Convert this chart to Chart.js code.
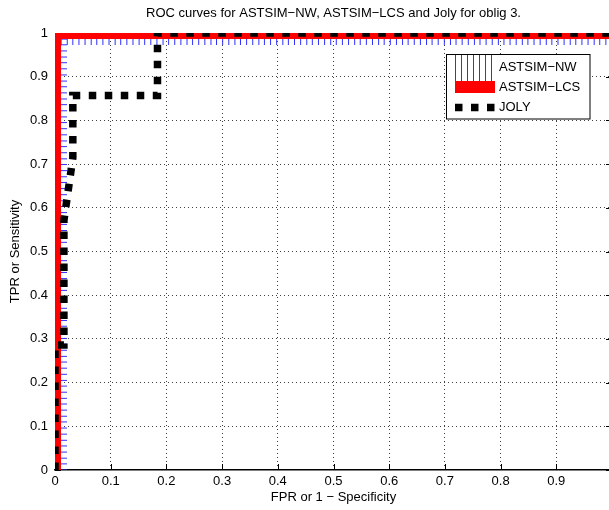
<!DOCTYPE html>
<html>
<head>
<meta charset="utf-8">
<script src="https://cdn.jsdelivr.net/npm/chart.js@4.4.1/dist/chart.umd.min.js"></script>
<style>
  html, body { margin: 0; padding: 0; background: #fff; overflow: hidden; }
  canvas { display: block; }
</style>
</head>
<body>
<canvas id="roc" width="625" height="510"></canvas>
<script>
// ---- text ----
const chartTitle = 'ROC curves for ASTSIM\u2212NW, ASTSIM\u2212LCS and Joly for oblig 3.';
const seriesNames = ['ASTSIM\u2212NW', 'ASTSIM\u2212LCS', 'JOLY'];
const xAxisTitle = 'FPR or 1 \u2212 Specificity';
const yAxisTitle = 'TPR or Sensitivity';

// ---- ticks (same on both axes) ----
const tickValues = [0, 0.1, 0.2, 0.3, 0.4, 0.5, 0.6, 0.7, 0.8, 0.9, 1];
const tickLabels = ['0', '0.1', '0.2', '0.3', '0.4', '0.5', '0.6', '0.7', '0.8', '0.9', '1'];

// ---- ASTSIM-NW: operating points on the FPR = 0 edge, then on the TPR = 1 edge ----
const nwTprAtZeroFpr = [0, 0.014, 0.027, 0.041, 0.055, 0.068, 0.082, 0.096, 0.110, 0.123,
  0.137, 0.151, 0.164, 0.178, 0.192, 0.205, 0.219, 0.233, 0.247, 0.260, 0.274, 0.288, 0.301,
  0.315, 0.329, 0.342, 0.356, 0.370, 0.384, 0.397, 0.411, 0.425, 0.438, 0.452, 0.466, 0.479,
  0.493, 0.507, 0.521, 0.534, 0.548, 0.562, 0.575, 0.589, 0.603, 0.616, 0.630, 0.644, 0.658,
  0.671, 0.685, 0.699, 0.712, 0.726, 0.740, 0.753, 0.767, 0.781, 0.795, 0.808, 0.822, 0.836,
  0.849, 0.863, 0.877, 0.890, 0.904, 0.918, 0.932, 0.945, 0.959, 0.973, 0.986, 1];
const nwFprAtFullTpr = [0.011, 0.022, 0.032, 0.043, 0.054, 0.065, 0.075, 0.086, 0.097, 0.108,
  0.118, 0.129, 0.140, 0.151, 0.161, 0.172, 0.183, 0.194, 0.204, 0.215, 0.226, 0.237, 0.247,
  0.258, 0.269, 0.280, 0.290, 0.301, 0.312, 0.323, 0.333, 0.344, 0.355, 0.366, 0.376, 0.387,
  0.398, 0.409, 0.419, 0.430, 0.441, 0.452, 0.462, 0.473, 0.484, 0.495, 0.505, 0.516, 0.527,
  0.538, 0.548, 0.559, 0.570, 0.581, 0.591, 0.602, 0.613, 0.624, 0.634, 0.645, 0.656, 0.667,
  0.677, 0.688, 0.699, 0.710, 0.720, 0.731, 0.742, 0.753, 0.763, 0.774, 0.785, 0.796, 0.806,
  0.817, 0.828, 0.839, 0.849, 0.860, 0.871, 0.882, 0.892, 0.903, 0.914, 0.925, 0.935, 0.946,
  0.957, 0.968, 0.978, 0.989, 1];

// ---- ASTSIM-LCS ----
const lcsFpr = [0, 0, 1];
const lcsTpr = [0, 1, 1];

// ---- JOLY ----
const jolyFpr = [0, 0, 0.016, 0.016, 0.032, 0.032, 0.184, 0.184, 1];
const jolyTpr = [0, 0.286, 0.286, 0.571, 0.714, 0.857, 0.857, 1, 1];

const pairUp = (xs, ys) => xs.map((x, i) => ({ x: x, y: ys[i] }));
const nwPoints = nwTprAtZeroFpr.map(t => ({ x: 0, y: t }))
  .concat(nwFprAtFullTpr.map(f => ({ x: f, y: 1 })));

const FONT = 'Liberation Sans, Arial, Helvetica, sans-serif';
Chart.defaults.font.family = FONT;
Chart.defaults.font.size = 13;
Chart.defaults.color = '#000';

const GRID_COLOR = 'rgba(0,0,0,0.75)';
const edgeAware = c => (c.tick && (c.tick.value === 0 || c.tick.value === 1)) ? 'rgba(0,0,0,0)' : GRID_COLOR;

// Short tick marks pointing into the plot box, drawn under the curves
const innerTicks = {
  id: 'innerTicks',
  beforeDatasetsDraw(chart) {
    const { ctx, chartArea: a, scales: { x, y } } = chart;
    const len = 6;
    ctx.save();
    ctx.strokeStyle = '#000';
    ctx.lineWidth = 1;
    ctx.beginPath();
    tickValues.forEach(v => {
      const px = Math.round(x.getPixelForValue(v)) + 0.5;
      ctx.moveTo(px, a.bottom); ctx.lineTo(px, a.bottom - len);
      ctx.moveTo(px, a.top); ctx.lineTo(px, a.top + len);
      const py = Math.round(y.getPixelForValue(v)) + 0.5;
      ctx.moveTo(a.left, py); ctx.lineTo(a.left + len, py);
      ctx.moveTo(a.right, py); ctx.lineTo(a.right - len, py);
    });
    ctx.stroke();
    ctx.restore();
  }
};

// Boxed legend in the upper right of the plot, styled after each dataset
const boxLegend = {
  id: 'boxLegend',
  afterDatasetsDraw(chart) {
    const { ctx } = chart;
    const ds = chart.data.datasets;
    const box = { left: 446.5, top: 54.5, width: 143.5, height: 64.5 };
    const rows = [67, 87, 107.5];
    const x0 = 455, x1 = 495;
    ctx.save();
    ctx.fillStyle = '#fff';
    ctx.fillRect(box.left, box.top, box.width, box.height);
    ctx.strokeStyle = '#000';
    ctx.lineWidth = 1;
    ctx.strokeRect(box.left, box.top, box.width, box.height);

    // NW sample: marker arms across the sample
    ctx.strokeStyle = ds[0].pointBorderColor;
    ctx.lineWidth = 1;
    ctx.beginPath();
    for (let px = x0; px <= x1 - 3; px += 6) {
      ctx.moveTo(px + 0.5, box.top + 0.5);
      ctx.lineTo(px + 0.5, rows[0] + 14);
    }
    ctx.stroke();

    // LCS sample
    ctx.strokeStyle = ds[1].borderColor;
    ctx.lineWidth = ds[1].borderWidth;
    ctx.lineCap = 'butt';
    ctx.beginPath();
    ctx.moveTo(x0, rows[1]); ctx.lineTo(x1, rows[1]);
    ctx.stroke();

    // JOLY sample
    ctx.strokeStyle = ds[2].borderColor;
    ctx.lineWidth = ds[2].borderWidth;
    ctx.setLineDash(ds[2].borderDash);
    ctx.beginPath();
    ctx.moveTo(x0, rows[2]); ctx.lineTo(x1, rows[2]);
    ctx.stroke();
    ctx.setLineDash([]);

    ctx.fillStyle = '#000';
    ctx.font = '13px ' + FONT;
    ctx.textAlign = 'left';
    ctx.textBaseline = 'middle';
    ds.forEach((d, i) => ctx.fillText(d.label, 499, rows[i]));
    ctx.restore();
  }
};

new Chart(document.getElementById('roc'), {
  type: 'scatter',
  data: {
    datasets: [
      {
        label: seriesNames[0],
        data: nwPoints,
        showLine: true,
        borderColor: '#0000ff',
        borderWidth: 1,
        pointStyle: 'cross',
        pointRadius: 12,
        pointBorderWidth: 1,
        pointBorderColor: '#3030ff',
        pointBackgroundColor: '#3030ff',
        clip: 0,
        order: 3
      },
      {
        label: seriesNames[1],
        data: pairUp(lcsFpr, lcsTpr),
        showLine: true,
        borderColor: '#ff0000',
        borderWidth: 12,
        borderCapStyle: 'butt',
        borderJoinStyle: 'miter',
        pointRadius: 0,
        clip: 0,
        order: 2
      },
      {
        label: seriesNames[2],
        data: pairUp(jolyFpr, jolyTpr),
        showLine: true,
        borderColor: '#000000',
        borderWidth: 7.5,
        borderDash: [7.5, 8.5],
        borderCapStyle: 'butt',
        borderJoinStyle: 'miter',
        pointRadius: 0,
        clip: 0,
        order: 1
      }
    ]
  },
  options: {
    responsive: false,
    animation: false,
    events: [],
    layout: { padding: { left: 0, right: 9.5, top: 0, bottom: 0 } },
    plugins: {
      legend: { display: false },
      tooltip: { enabled: false },
      title: {
        display: true,
        text: chartTitle,
        fullSize: false,
        font: { size: 13, weight: 'normal' },
        color: '#000',
        padding: { top: 5.2, bottom: 12.2 }
      }
    },
    scales: {
      x: {
        type: 'linear',
        min: 0, max: 1,
        afterBuildTicks: s => { s.ticks = tickValues.map(v => ({ value: v })); },
        afterFit: s => { s.height = 40; },
        ticks: {
          callback: (v, i) => tickLabels[i],
          maxRotation: 0,
          padding: 4,
          font: { size: 13 }
        },
        grid: { color: edgeAware, lineWidth: 1, drawTicks: false },
        border: { display: true, color: '#000', width: 1.5, dash: [1, 3] },
        title: { display: true, text: xAxisTitle, font: { size: 13 }, padding: { top: 0, bottom: 5.2 } }
      },
      y: {
        type: 'linear',
        min: 0, max: 1,
        afterBuildTicks: s => { s.ticks = tickValues.map(v => ({ value: v })); },
        afterFit: s => { s.width = 55; },
        ticks: {
          callback: (v, i) => tickLabels[i],
          padding: 7,
          font: { size: 13 }
        },
        grid: { color: edgeAware, lineWidth: 1, drawTicks: false },
        border: { display: true, color: '#000', width: 1, dash: [1, 3] },
        title: { display: true, text: yAxisTitle, font: { size: 13 }, padding: { top: 7.2, bottom: 0 } }
      }
    }
  },
  plugins: [innerTicks, boxLegend]
});
</script>
</body>
</html>
